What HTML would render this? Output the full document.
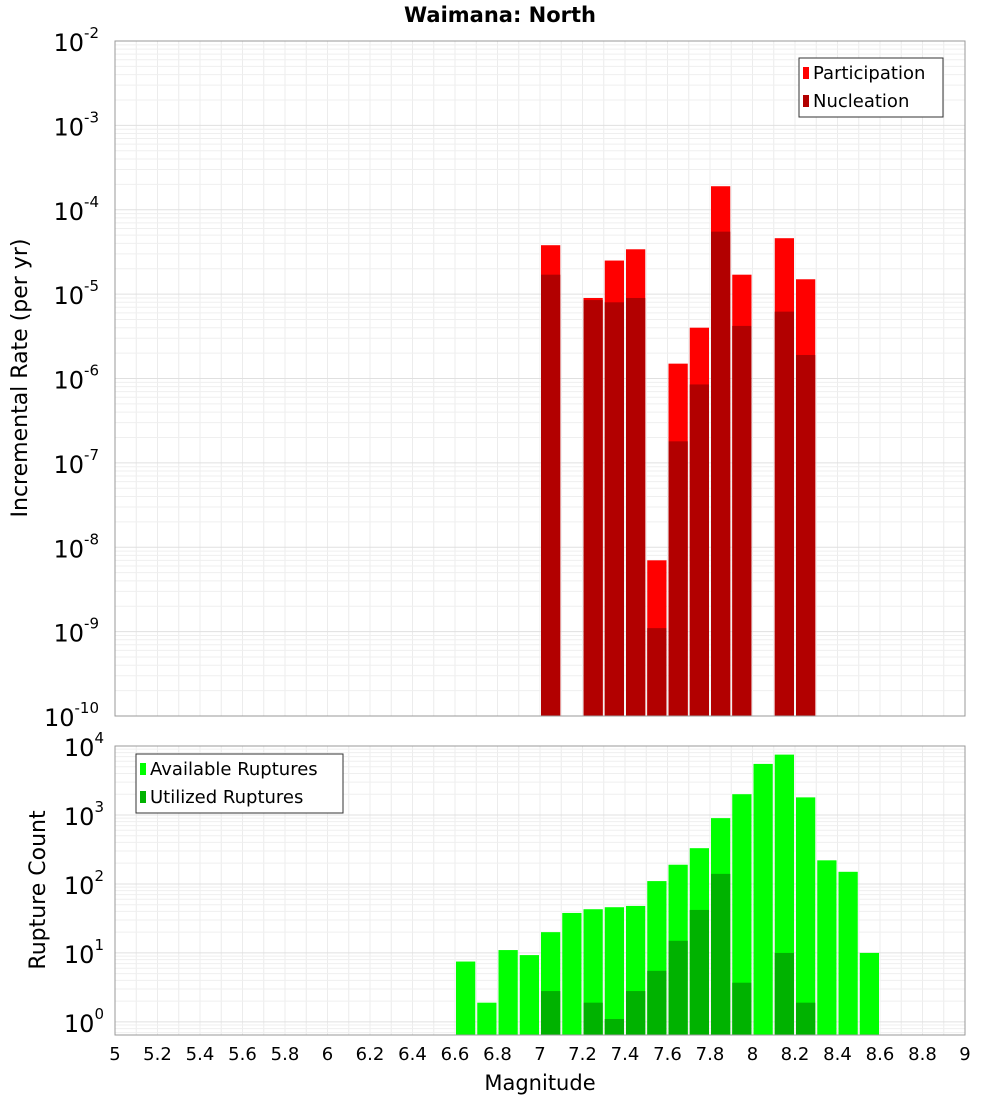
<!DOCTYPE html>
<html><head><meta charset="utf-8"><style>
body{margin:0;background:#fff;font-family:"Liberation Sans","DejaVu Sans",sans-serif}
svg text{font-family:"DejaVu Sans","Liberation Sans",sans-serif}
</style></head><body>
<svg id="c" width="1000" height="1100" xmlns="http://www.w3.org/2000/svg"></svg>
<script>
const bins=[7.05,7.25,7.35,7.45,7.55,7.65,7.75,7.85,7.95,8.15,8.25];
const participation=[3.8e-5,9e-6,2.5e-5,3.4e-5,7e-9,1.5e-6,4e-6,1.9e-4,1.7e-5,4.6e-5,1.5e-5];
const nucleation=[1.7e-5,8.5e-6,8e-6,9e-6,1.1e-9,1.8e-7,8.5e-7,5.5e-5,4.2e-6,6.2e-6,1.9e-6];
const countBins=[6.65,6.75,6.85,6.95,7.05,7.15,7.25,7.35,7.45,7.55,7.65,7.75,7.85,7.95,8.05,8.15,8.25,8.35,8.45,8.55];
const available=[7.5,1.9,11,9.3,20,38,43,46,48,110,190,330,900,2000,5500,7500,1800,220,150,10];
const utilized=[0,0,0,0,2.8,0,1.9,1.1,2.8,5.5,15,42,140,3.7,0,10,1.9,0,0,0];
const xTicks=[5,5.2,5.4,5.6,5.8,6,6.2,6.4,6.6,6.8,7,7.2,7.4,7.6,7.8,8,8.2,8.4,8.6,8.8,9];

const svg=document.getElementById('c');const NS='http://www.w3.org/2000/svg';
function el(t,a,txt){const e=document.createElementNS(NS,t);for(const k in a)e.setAttribute(k,a[k]);if(txt!==undefined)e.textContent=txt;svg.appendChild(e);return e;}
const X0=115,X1=965;
const x=m=>X0+(m-5)/4*(X1-X0);
const T={top:41,bot:716,lo:-10,hi:-2};
const B={top:746,bot:1035,lo:-0.19,hi:4};
const yT=v=>T.bot-(Math.log10(v)-T.lo)/(T.hi-T.lo)*(T.bot-T.top);
const yB=v=>B.bot-(Math.log10(v)-B.lo)/(B.hi-B.lo)*(B.bot-B.top);

function panel(P,yf,name){
  let r=el('rect',{x:X0,y:P.top,width:X1-X0,height:P.bot-P.top,fill:'#fff'});
  
  for(let m=5;m<=9.001;m+=0.1){el('line',{x1:x(m),x2:x(m),y1:P.top,y2:P.bot,stroke:'#ececec','stroke-width':1});}
  for(let d=Math.floor(P.lo);d<P.hi;d++)for(let k=1;k<10;k++){const v=k*Math.pow(10,d);if(Math.log10(v)<P.lo||Math.log10(v)>P.hi)continue;const yy=yf(v);el('line',{x1:X0,x2:X1,y1:yy,y2:yy,stroke:k==1?'#e0e0e0':'#efefef','stroke-width':1});}
}
panel(T,yT,'rate');panel(B,yB,'count');

const bw=x(5.1)-x(5)-2;
bins.forEach((b,i)=>{
  let r=el('rect',{x:x(b-0.05)+1,y:yT(participation[i]),width:bw,height:T.bot-yT(participation[i]),fill:'#ff0000'});
  
  r=el('rect',{x:x(b-0.05)+1,y:yT(nucleation[i]),width:bw,height:T.bot-yT(nucleation[i]),fill:'#b20000'});
  
});
countBins.forEach((b,i)=>{
  let r=el('rect',{x:x(b-0.05)+1,y:yB(available[i]),width:bw,height:B.bot-yB(available[i]),fill:'#00ff00'});
  
  if(utilized[i]>0){r=el('rect',{x:x(b-0.05)+1,y:yB(utilized[i]),width:bw,height:B.bot-yB(utilized[i]),fill:'#00b200'});
  }
});
[T,B].forEach(P=>el('rect',{x:X0,y:P.top,width:X1-X0,height:P.bot-P.top,fill:'none',stroke:'#999','stroke-width':1}));

// y tick labels
for(let d=-10;d<=-2;d++){const yy=yT(Math.pow(10,d));
  let t=el('text',{x:99,y:yy+10,'font-size':24,'text-anchor':'end',fill:'#000'});
  t.innerHTML='10<tspan dy="-13" font-size="15">'+d+'</tspan>';}
for(let d=0;d<=4;d++){const yy=yB(Math.pow(10,d));
  let t=el('text',{x:104,y:yy+10,'font-size':24,'text-anchor':'end',fill:'#000'});
  t.innerHTML='10<tspan dy="-13" font-size="15">'+d+'</tspan>';}
xTicks.forEach(v=>{let t=el('text',{x:x(v),y:1060,'font-size':18,'text-anchor':'middle'},String(v));});

let t;
t=el('text',{x:500,y:22,'font-size':21,'font-weight':'bold','text-anchor':'middle'},'Waimana: North');
t=el('text',{x:540,y:1090,'font-size':21,'text-anchor':'middle'},'Magnitude');
t=el('text',{x:0,y:0,'font-size':22,'text-anchor':'middle',transform:'translate(27,378) rotate(-90)'},'Incremental Rate (per yr)');
t=el('text',{x:0,y:0,'font-size':22,'text-anchor':'middle',transform:'translate(45,890) rotate(-90)'},'Rupture Count');

function legend(x0,y0,w,items,name){
  let r=el('rect',{x:x0,y:y0,width:w,height:59,fill:'#fff',stroke:'#333'});
  items.forEach((it,i)=>{let s=el('rect',{x:x0+4,y:y0+9+i*28,width:6,height:12,fill:it[1]});
    let tt=el('text',{x:x0+14,y:y0+21+i*28,'font-size':18},it[0]);});
}
legend(799,58,144,[['Participation','#ff0000'],['Nucleation','#b20000']],'rate-legend');
legend(136,754,207,[['Available Ruptures','#00ff00'],['Utilized Ruptures','#00b200']],'count-legend');
</script></body></html>
